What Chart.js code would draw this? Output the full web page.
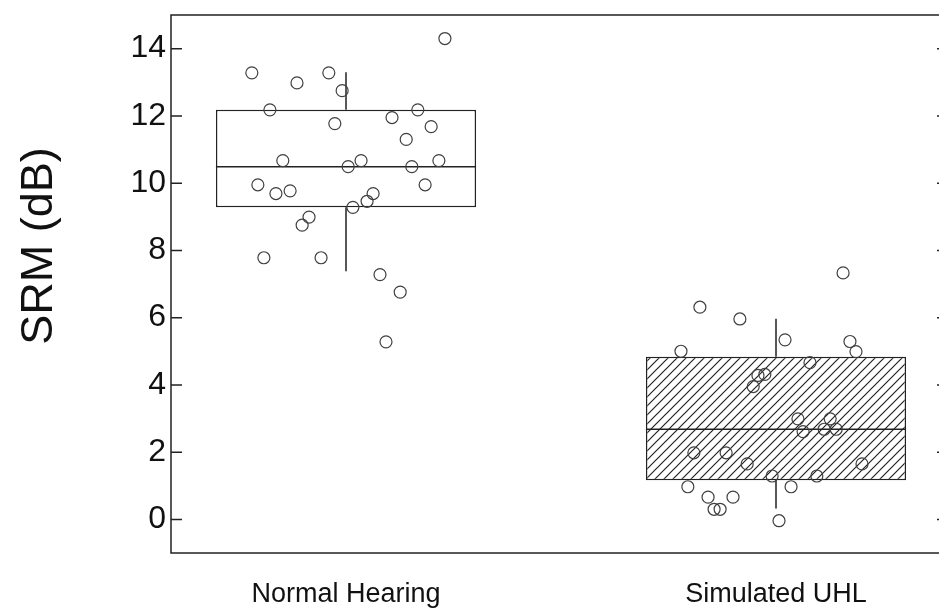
<!DOCTYPE html>
<html>
<head>
<meta charset="utf-8">
<title>SRM box plot</title>
<script src="https://cdn.jsdelivr.net/npm/chart.js@4.4.1/dist/chart.umd.min.js"></script>
<style>
  html, body { margin: 0; padding: 0; overflow: hidden; background: #fff; }
  #wrap { width: 962px; height: 610px; }
</style>
</head>
<body>
<div id="wrap"><canvas id="srmChart" width="962" height="610"></canvas></div>
<script>
const groups = ['Normal Hearing', 'Simulated UHL'];
const groupX = [1, 2];
const yTicks = [0, 2, 4, 6, 8, 10, 12, 14];
const yTitle = 'SRM (dB)';

// box stats per group
const whiskerLow = [7.38, 0.32];
const q1 = [9.28, 1.16];
const median = [10.49, 2.68];
const q3 = [12.18, 4.84];
const whiskerHigh = [13.30, 5.97];

// individual listeners (x = jittered group position)
const nhX = [1.230, 0.781, 0.886, 0.960, 0.991, 0.823, 0.974, 1.107, 1.167, 1.198,
             1.140, 0.853, 1.005, 1.035, 1.153, 1.216, 0.795, 0.837, 0.870, 1.184,
             1.063, 1.049, 1.016, 0.914, 0.898, 0.809, 0.942, 1.079, 1.126, 1.093];
const nhY = [14.30, 13.28, 12.98, 13.28, 12.75, 12.18, 11.77, 11.95, 12.18, 11.68,
             11.30, 10.67, 10.49, 10.67, 10.49, 10.67, 9.95, 9.69, 9.77, 9.95,
             9.69, 9.46, 9.28, 8.99, 8.75, 7.78, 7.78, 7.28, 6.76, 5.28];
const uhlX = [2.156, 1.823, 1.916, 2.021, 2.172, 2.186, 1.779, 2.079, 1.974, 1.958,
              1.947, 2.051, 2.126, 2.063, 2.112, 2.140, 1.809, 1.884, 1.933, 2.200,
              1.991, 2.095, 1.795, 2.035, 1.842, 1.900, 1.856, 1.870, 2.007];
const uhlY = [7.33, 6.31, 5.96, 5.34, 5.29, 4.99, 5.00, 4.66, 4.31, 4.28,
              3.95, 2.99, 2.99, 2.61, 2.68, 2.68, 1.98, 1.98, 1.65, 1.65,
              1.29, 1.29, 0.97, 0.97, 0.66, 0.66, 0.30, 0.30, -0.04];

const boxWidth = 0.605;   // in x units
const halfBox = boxWidth / 2;
const lineColor = '#222';
const fontFam = '"Liberation Sans", Arial, Helvetica, sans-serif';

const canvas = document.getElementById('srmChart');
const ctx = canvas.getContext('2d');

// diagonal hatch for the second box
function makeHatch() {
  const tile = document.createElement('canvas');
  tile.width = 9;
  tile.height = 9;
  const g = tile.getContext('2d');
  g.fillStyle = '#fff';
  g.fillRect(0, 0, 9, 9);
  g.strokeStyle = '#222';
  g.lineWidth = 1.2;
  g.beginPath();
  g.moveTo(-1, 10); g.lineTo(10, -1);
  g.moveTo(-1, 1); g.lineTo(1, -1);
  g.moveTo(8, 10); g.lineTo(10, 8);
  g.stroke();
  return ctx.createPattern(tile, 'repeat');
}
const hatch = makeHatch();

// whiskers + medians as one broken line
const segs = [];
groupX.forEach((x, i) => {
  segs.push({x: x, y: q3[i]}, {x: x, y: whiskerHigh[i]}, {x: x, y: null});
  segs.push({x: x, y: whiskerLow[i]}, {x: x, y: q1[i]}, {x: x, y: null});
  segs.push({x: x - halfBox, y: median[i]}, {x: x + halfBox, y: median[i]}, {x: x, y: null});
});

const points = nhX.map((x, i) => ({x: x, y: nhY[i]}))
  .concat(uhlX.map((x, i) => ({x: x, y: uhlY[i]})));

const framePlugin = {
  id: 'frame',
  afterDraw(chart) {
    const a = chart.chartArea;
    const y = chart.scales.y;
    const c = chart.ctx;
    const tickLen = 11;
    c.save();
    c.strokeStyle = lineColor;
    c.lineWidth = 1.5;
    c.strokeRect(a.left, a.top, a.right - a.left, a.bottom - a.top);
    c.beginPath();
    yTicks.forEach(v => {
      const py = y.getPixelForValue(v);
      c.moveTo(a.left, py); c.lineTo(a.left + tickLen, py);
      c.moveTo(a.right, py); c.lineTo(a.right - tickLen, py);
    });
    c.stroke();
    // axis title
    c.translate(52, 246);
    c.rotate(-Math.PI / 2);
    c.font = '45px ' + fontFam;
    c.fillStyle = '#111';
    c.textAlign = 'center';
    c.textBaseline = 'alphabetic';
    c.fillText(yTitle, 0, 0);
    c.restore();
  }
};

new Chart(ctx, {
  type: 'scatter',
  data: {
    datasets: [
      {
        type: 'scatter',
        label: 'listeners',
        data: points,
        pointRadius: 6,
        pointBorderWidth: 1.2,
        pointBorderColor: '#404040',
        pointBackgroundColor: 'rgba(0,0,0,0)',
        order: 0
      },
      {
        type: 'scatter',
        label: 'whiskers',
        data: segs,
        showLine: true,
        spanGaps: false,
        pointRadius: 0,
        borderColor: lineColor,
        borderWidth: 1.5,
        order: 1
      },
      {
        type: 'bar',
        label: 'boxes',
        data: groupX.map((x, i) => ({x: x, y: [q1[i], q3[i]]})),
        backgroundColor: ['#ffffff', hatch],
        borderColor: lineColor,
        borderWidth: 1.5,
        borderSkipped: false,
        barPercentage: 1,
        categoryPercentage: boxWidth,
        order: 2
      }
    ]
  },
  options: {
    responsive: false,
    animation: false,
    devicePixelRatio: 1,
    layout: { padding: { top: 15, right: 14, left: 0, bottom: 0 } },
    plugins: { legend: { display: false }, tooltip: { enabled: false } },
    scales: {
      x: {
        type: 'linear',
        offset: false,
        min: 0.593,
        max: 2.400,
        grid: { display: false, drawTicks: false },
        border: { display: false },
        afterBuildTicks: s => { s.ticks = groupX.map(v => ({value: v})); },
        afterFit: s => { s.height = 57; s.paddingLeft = 0; s.paddingRight = 0; },
        ticks: {
          padding: 25,
          color: '#111',
          font: { family: fontFam, size: 27 },
          callback: v => groups[groupX.indexOf(v)]
        }
      },
      y: {
        type: 'linear',
        min: -1,
        max: 15,
        grid: { display: false, drawTicks: false },
        border: { display: false },
        afterBuildTicks: s => { s.ticks = yTicks.map(v => ({value: v})); },
        afterFit: s => { s.width = 171; s.paddingTop = 0; s.paddingBottom = 0; },
        ticks: {
          padding: 5,
          color: '#111',
          font: { family: fontFam, size: 32 }
        }
      }
    }
  },
  plugins: [framePlugin]
});
</script>
</body>
</html>
